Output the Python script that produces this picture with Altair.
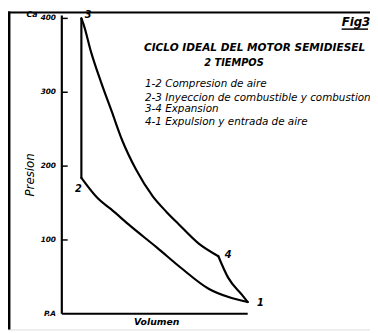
import altair as alt
import pandas as pd

# ---- data (volume in arbitrary units, pressure in the chart's units) ----
seg_12_V = [1.0, 1.85, 2.5, 3.5, 4.85, 6.1, 7.5, 8.6, 9.5]
seg_12_P = [184, 156, 142, 119, 90, 62, 34, 22, 16]
seg_23_V = [1.0, 1.0]
seg_23_P = [184, 400]
seg_34_V = [1.0, 1.1, 1.5, 2.0, 2.55, 3.1, 3.8, 4.65, 5.35, 5.95, 7.0, 8.0]
seg_34_P = [400, 393, 354, 314, 274, 234, 195, 159, 138, 122, 95, 78]
seg_41_V = [8.0, 8.5, 9.2, 9.5]
seg_41_P = [78, 49, 26, 16]

point_names = ["1", "2", "3", "4"]
point_V = [9.5, 1.0, 1.0, 8.0]
point_P = [16, 184, 400, 78]

y_ticks = [0, 100, 200, 300, 400]
y_tick_labels = ["P.A", "100", "200", "300", "400"]

title_lines = ["CICLO IDEAL DEL MOTOR SEMIDIESEL", "2 TIEMPOS"]
legend_lines = [
    "1-2 Compresion de aire",
    "2-3 Inyeccion de combustible y combustion",
    "3-4 Expansion",
    "4-1 Expulsion y entrada de aire",
]

rows = []
for name, vs, ps in [("12", seg_12_V, seg_12_P), ("23", seg_23_V, seg_23_P),
                     ("34", seg_34_V, seg_34_P), ("41", seg_41_V, seg_41_P)]:
    for i, (v, p) in enumerate(zip(vs, ps)):
        rows.append({"seg": name, "order": i, "V": v, "P": p})
curves = pd.DataFrame(rows)
points = pd.DataFrame({"name": point_names, "V": point_V, "P": point_P})
ticklab = pd.DataFrame({"P": y_ticks, "lab": y_tick_labels, "V": [0] * len(y_ticks)})

xs = alt.Scale(domain=[-2.75, 15.75], nice=False, zero=False)
ys = alt.Scale(domain=[-21.2, 409.3], nice=False, zero=False)

W, H = 370, 325
FONT = "DejaVu Sans"

def X(f="V:Q"):
    return alt.X(f, scale=xs, axis=None)
def Y(f="P:Q"):
    return alt.Y(f, scale=ys, axis=None)

lines = alt.Chart(curves).mark_line(
    color="black", strokeWidth=2.2, strokeCap="round", strokeJoin="round", interpolate="monotone"
).encode(x=X(), y=Y(), detail="seg:N", order="order:Q")

# axis lines
yaxis = alt.Chart(pd.DataFrame({"V": [0], "P": [0], "P2": [404]})).mark_rule(
    color="black", strokeWidth=2.2).encode(x=X(), y=Y(), y2="P2:Q")
xaxis = alt.Chart(pd.DataFrame({"V": [0], "V2": [9.5], "P": [0]})).mark_rule(
    color="black", strokeWidth=2).encode(x=X(), x2="V2:Q", y=Y())
ticks_df = pd.DataFrame({"P": y_ticks[1:], "V": [0] * 4, "V2": [0.3] * 4})
yticks = alt.Chart(ticks_df).mark_rule(color="black", strokeWidth=1.5).encode(
    x=X(), x2="V2:Q", y=Y())
ylabels = alt.Chart(ticklab).mark_text(
    align="right", baseline="middle", dx=-6, font=FONT, fontStyle="italic", fontWeight="bold",
    fontSize=7.5, color="black").encode(x=X(), y=Y(), text="lab:N")

# point labels
lab_style = dict(font=FONT, fontStyle="italic", fontWeight="bold", fontSize=10, color="black")
def plabel(name, dx, dy):
    return alt.Chart(points[points.name == name]).mark_text(dx=dx, dy=dy, **lab_style).encode(
        x=X(), y=Y(), text="name:N")
plabels = plabel("1", 13, 1) + plabel("2", -3, 11) + plabel("3", 7, -3) + plabel("4", 10, -1)

# free texts
def txt(s, x, y, size=9, align="left", weight="normal", angle=0, font=FONT):
    kw = dict(align=align, baseline="middle", font=font, fontSize=size, fontStyle="italic",
              fontWeight=weight, color="black")
    if angle:
        kw["angle"] = angle
    return alt.Chart(pd.DataFrame({"t": [s]})).mark_text(**kw).encode(
        x=alt.value(x), y=alt.value(y), text="t:N")

texts = [
    txt(title_lines[0], 252, 37, size=10.8, align="center", weight="bold"),
    txt(title_lines[1], 231, 53, size=10, align="center", weight="bold"),
    txt("Fig3", 341, 11, size=12, weight="bold"),
    txt("Presion", 23, 167, size=12, align="center", angle=270),
    txt("Volumen", 152, 317, size=9.5, align="center", weight="bold"),
    txt("Ca", 19, 4, size=8, weight="bold"),
]
for i, s in enumerate(legend_lines):
    texts.append(txt(s, 140, [74, 88, 100, 113][i], size=10.6))

underline = alt.Chart(pd.DataFrame({"a": [0]})).mark_rule(color="black", strokeWidth=1.5).encode(
    x=alt.value(341), x2=alt.value(368), y=alt.value(18))
frame_left = alt.Chart(pd.DataFrame({"a": [0]})).mark_rule(color="black", strokeWidth=3).encode(
    x=alt.value(1), y=alt.value(0), y2=alt.value(H))
frame_top = alt.Chart(pd.DataFrame({"a": [0]})).mark_rule(color="black", strokeWidth=2).encode(
    x=alt.value(0), x2=alt.value(W), y=alt.value(1))

chart = alt.layer(lines, yaxis, xaxis, yticks, ylabels, plabels, *texts, underline,
                  frame_left, frame_top).properties(
    width=W, height=H, autosize=alt.AutoSizeParams(type="none"), padding=0,
).configure_view(stroke=None).configure(background="white")

chart.save("out.html", embed_options={"renderer": "svg", "actions": False})
